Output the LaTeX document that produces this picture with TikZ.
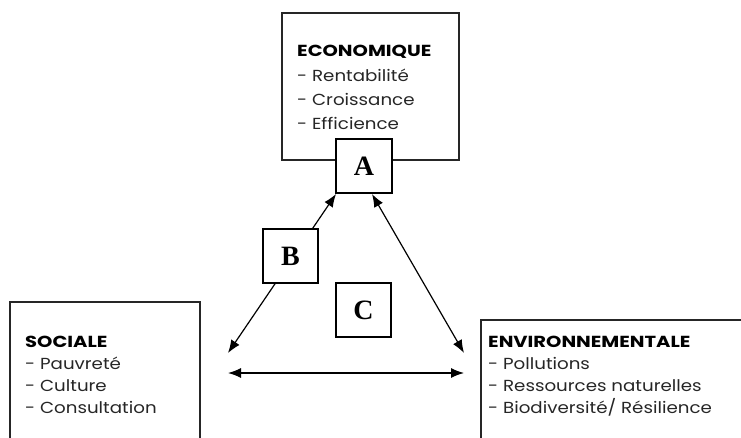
\documentclass[tikz,border=0pt]{standalone}
\usepackage{fontspec}
\setmainfont{Poppins}[FakeStretch=1.14]
\newfontfamily\headfont{Poppins}[FakeStretch=1.22]
\newfontfamily\lettfont{Liberation Serif}
\usetikzlibrary{arrows.meta}
\begin{document}
\begin{tikzpicture}[x=1pt,y=-1pt,
  boxline/.style={line width=1.3pt,draw=black!85},
  letterbox/.style={draw,line width=1.1pt,fill=white,inner sep=0pt,font=\lettfont\bfseries\fontsize{28}{30}\selectfont},
  head/.style={anchor=base west,inner sep=0pt,font=\headfont\bfseries\fontsize{16}{18}\selectfont},
  item/.style={anchor=base west,inner sep=0pt,text=black!85,font=\fontsize{16}{18}\selectfont},
  link/.style={line width=1.2pt,{Latex[length=13pt,width=10pt]}-{Latex[length=13pt,width=10pt]}}]
\useasboundingbox (0,0) rectangle (741,438);
% box outlines
\draw[boxline] (282,13) rectangle (459,160);
\draw[boxline] (10,445) -- (10,302) -- (200,302) -- (200,445);
\draw[boxline] (481,445) -- (481,320) -- (745,320);
% ECONOMIQUE
\node[head] (e0) at (297,57) {ECONOMIQUE};
\node[item] (e1) at (297,82) {- Rentabilité};
\node[item] (e2) at (297,106) {- Croissance};
\node[item] (e3) at (297,130) {- Efficience};
% SOCIALE
\node[head] (s0) at (25,347) {SOCIALE};
\node[item] (s1) at (25,369) {- Pauvreté};
\node[item] (s2) at (25,391) {- Culture};
\node[item] (s3) at (25,413) {- Consultation};
% ENVIRONNEMENTALE
\node[head] (v0) at (488,347) {ENVIRONNEMENTALE};
\node[item] (v1) at (488,369) {- Pollutions};
\node[item] (v2) at (488,391) {- Ressources naturelles};
\node[item] (v3) at (488,413) {- Biodiversité/ Résilience};
% arrow end points
\coordinate (pA1) at (336,194);
\coordinate (pA2) at (372,194);
\coordinate (pS1) at (228,353);
\coordinate (pS2) at (228,373);
\coordinate (pV1) at (464,353);
\coordinate (pV2) at (464,373);
\draw[link] (pS1) -- (pA1);
\draw[link] (pA2) -- (pV1);
\draw[link] (pS2) -- (pV2);
% letter boxes
\node[letterbox,minimum width=56pt,minimum height=54pt] (A) at (364,166) {A};
\node[letterbox,minimum width=55pt,minimum height=54pt] (B) at (290.5,256) {B};
\node[letterbox,minimum width=55pt,minimum height=54pt] (C) at (363.5,310) {C};
\end{tikzpicture}
\end{document}
